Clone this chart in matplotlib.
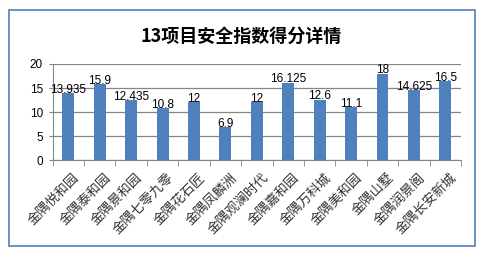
import matplotlib
matplotlib.use("Agg")
import matplotlib.pyplot as plt
import numpy as np
from matplotlib.patches import Rectangle

plt.rcParams['font.family'] = ['Noto Sans CJK SC', 'DejaVu Sans']

projects = ["金隅悦和园", "金隅泰和园", "金隅景和园", "金隅七零九零", "金隅花石匠",
            "金隅凤麟洲", "金隅观澜时代", "金隅嘉和园", "金隅万科城", "金隅美和园",
            "金隅山墅", "金隅润景阁", "金隅长安新城"]
scores = [13.935, 15.9, 12.435, 10.8, 12, 6.9, 12, 16.125, 12.6, 11.1, 18, 14.625, 16.5]
yticks = [0, 5, 10, 15, 20]

bar_color = "#4F81BD"
grid_color = "#868686"

fig = plt.figure(figsize=(4.92, 2.57), dpi=100)
fig.patch.set_facecolor("white")
fig.patches.append(Rectangle((9 / 492, 1 - 246 / 257), 466 / 492, 236 / 257,
                             transform=fig.transFigure, fill=False,
                             edgecolor=bar_color, linewidth=1.2))

ax = fig.add_axes([0.107, 0.377, 0.830, 0.374])
x = np.arange(len(projects))
ax.bar(x, scores, width=0.38, color=bar_color, zorder=3)

for xi, v in zip(x, scores):
    ax.text(xi, v - 0.6, f"{v:g}", ha="center", va="bottom",
            fontsize=8.5, family="Liberation Sans", zorder=4)

ax.set_xlim(-0.5, len(projects) - 0.5)
ax.set_ylim(0, 20)
ax.set_yticks(yticks)
ax.set_yticklabels([str(t) for t in yticks], family="Liberation Sans", fontsize=8.5)
ax.yaxis.grid(True, color=grid_color, linewidth=0.9, zorder=0)
ax.set_axisbelow(True)

# category labels, rotated like the Excel original
ax.set_xticks(x + 0.15)
ax.set_xticklabels(projects, rotation=45, ha="right", rotation_mode="anchor",
                   fontsize=9.5, color="#333333")
ax.tick_params(axis="x", length=0, pad=8)
ax.set_xticks(np.arange(-0.5, len(projects)), minor=True)
ax.tick_params(axis="x", which="minor", length=4, color=grid_color, direction="out")
ax.tick_params(axis="y", length=3, color=grid_color, pad=4)

for side in ["top", "right"]:
    ax.spines[side].set_visible(False)
for side in ["left", "bottom"]:
    ax.spines[side].set_color(grid_color)

fig.text(241 / 492, 1 - 36 / 257, "13项目安全指数得分详情", ha="center", va="center",
         fontsize=13, fontweight="bold")

fig.savefig("out.png", dpi=100)
